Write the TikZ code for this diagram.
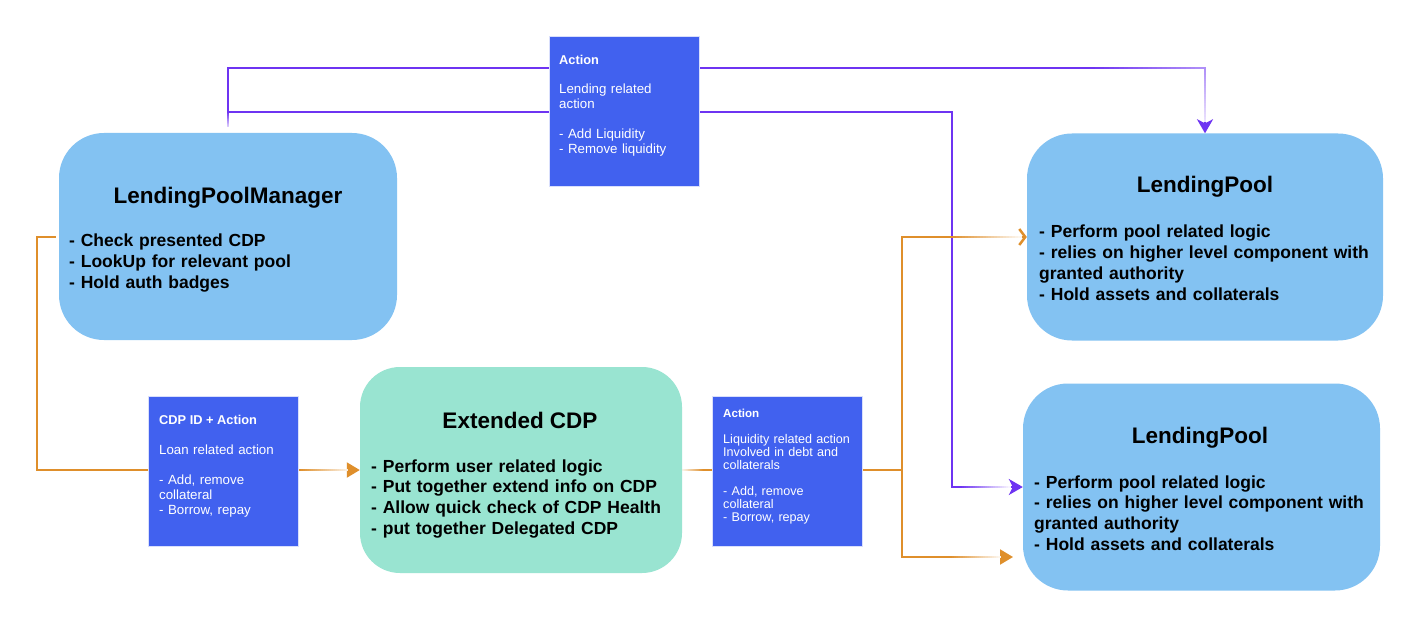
\documentclass[tikz,border=0pt]{standalone}
\usepackage{fontspec}
\setmainfont{Liberation Sans}
\usetikzlibrary{arrows.meta,backgrounds}
\definecolor{lpblue}{RGB}{131,194,242}
\definecolor{mint}{RGB}{153,228,209}
\definecolor{actblue}{RGB}{65,97,239}
\definecolor{purp}{RGB}{110,52,242}
\definecolor{orng}{RGB}{223,143,43}
\tikzset{
  bigbox/.style={fill=lpblue, draw=none, rounded corners=45pt, inner sep=0pt},
  cdpbox/.style={fill=mint, draw=none, rounded corners=40pt, inner sep=0pt},
  actbox/.style={fill=actblue, draw=white!80!actblue, line width=0.6pt, inner sep=0pt,
                 minimum width=150pt, minimum height=150pt},
  bigtitle/.style={anchor=base, inner sep=0pt, font=\bfseries\fontsize{22.5}{27}\selectfont},
  bigbody/.style={anchor=base west, inner sep=0pt, align=left, text width=345pt,
                  font=\bfseries\fontsize{17.5}{20.8}\selectfont},
  acttitle/.style={anchor=base west, inner sep=0pt, text=white, font=\bfseries\fontsize{12.8}{15}\selectfont},
  actbody/.style={anchor=base west, inner sep=0pt, align=left, text width=140pt, text=white,
                  font=\fontsize{13.3}{15}\selectfont},
  pline/.style={draw=purp, line width=2pt},
  oline/.style={draw=orng, line width=2pt},
  ptip/.style={-{Stealth[length=14pt,width=16pt,inset=4pt]}},
  otri/.style={-{Triangle[length=13pt,width=15pt]}},
  ochev/.style={-{Straight Barb[length=6pt,width=16pt,line width=2.5pt]}},
}
% #1,#2 start; #3,#4 end; #5 colour; #6 start percent; #7 end percent
\newcommand\myfade[7]{%
  \foreach \k in {0,...,23}{%
    \pgfmathsetmacro\fa{#1+(#3-#1)*\k/24}%
    \pgfmathsetmacro\fb{#2+(#4-#2)*\k/24}%
    \pgfmathsetmacro\fc{#1+(#3-#1)*(\k+1.3)/24}%
    \pgfmathsetmacro\fd{#2+(#4-#2)*(\k+1.3)/24}%
    \pgfmathsetmacro\pc{#6+(#7-#6)*\k/23}%
    \draw[draw=#5!\pc!white, line width=2pt] (\fa,\fb) -- (\fc,\fd);
  }%
}
\begin{document}
\begin{tikzpicture}[x=1pt,y=-1pt]
\useasboundingbox (0,0) rectangle (1420,628);

% boxes
\node[bigbox, minimum width=338pt, minimum height=207pt] (LPM) at (228,236.5) {};
\node[bigbox, minimum width=356pt, minimum height=207pt] (LP1) at (1205,237) {};
\node[bigbox, minimum width=357pt, minimum height=207pt] (LP2) at (1201.5,487) {};
\node[cdpbox, minimum width=322pt, minimum height=206pt] (ECDP) at (521,470) {};
\node[actbox] (ACT1) at (624,111) {};
\node[actbox] (CDPA) at (223,471) {};
\node[actbox] (ACT2) at (787,471) {};

% texts of big boxes
\node[bigtitle] (LPMt) at (228,204) {LendingPoolManager};
\node[bigbody] (LPMb) at (69,247) {- Check presented CDP\\- LookUp for relevant pool\\- Hold auth badges};

\node[bigtitle] (LP1t) at (1205,193) {LendingPool};
\node[bigbody] (LP1b) at (1039,238) {- Perform pool related logic\\- relies on higher level component with\\granted authority\\- Hold assets and collaterals};

\node[bigtitle] (LP2t) at (1200,443) {LendingPool};
\node[bigbody] (LP2b) at (1034,488) {- Perform pool related logic\\- relies on higher level component with\\granted authority\\- Hold assets and collaterals};

\node[bigtitle] (ECDPt) at (520,428) {Extended CDP};
\node[bigbody] (ECDPb) at (371,472) {- Perform user related logic\\- Put together extend info on CDP\\- Allow quick check of CDP Health\\- put together Delegated CDP};

% texts of action boxes
\node[acttitle] (ACT1t) at (559,65) {Action};
\node[actbody] (ACT1b) at (559,94) {Lending related\\action\\[15pt]- Add Liquidity\\- Remove liquidity};

\node[acttitle] (CDPAt) at (159,424) {CDP ID + Action};
\node[actbody] (CDPAb) at (159,454) {Loan related action\\[15pt]- Add, remove\\collateral\\- Borrow, repay};

\node[acttitle, font=\bfseries\fontsize{11.6}{13}\selectfont] (ACT2t) at (723,417) {Action};
\node[actbody, font=\fontsize{12.6}{13}\selectfont] (ACT2b) at (723,443) {Liquidity related action\\Involved in debt and\\collaterals\\[13pt]- Add, remove\\collateral\\- Borrow, repay};

% connectors
\coordinate (pj) at (228,112);
\coordinate (pv) at (952,112);
\coordinate (oj) at (902,470);
\coordinate (ol) at (37,237);
\coordinate (ot) at (1013,557);
\begin{pgfonlayer}{background}
\fill[white] (0,0) rectangle (1420,628);
\draw[pline, ptip] ([yshift=6pt]LPM.north) -- (LPM.north |- 0,68) -| (LP1.north);
\draw[pline, ptip] (pj) -- (pv) |- (LP2.west);
\draw[oline, otri] ([xshift=-3pt]LPM.west |- 0,237) -- (ol) |- (ECDP.west);
\draw[oline] (ECDP.east) -- (oj);
\draw[oline, ochev] (oj) |- (LP1.west);
\draw[oline, otri] (oj) |- (ot);
% fading of the line ends
\myfade{1090}{68}{1205}{68}{purp}{100}{55}
\myfade{1205}{68}{1205}{121}{purp}{55}{15}
\myfade{960}{487}{1010}{487}{purp}{100}{5}
\myfade{228}{112}{228}{127}{purp}{100}{25}
\myfade{950}{237}{1021}{237}{orng}{100}{8}
\myfade{950}{557}{1000}{557}{orng}{100}{8}
\myfade{299}{470}{347}{470}{orng}{100}{15}
\myfade{682}{470}{704}{470}{orng}{10}{100}
\end{pgfonlayer}
\end{tikzpicture}
\end{document}
